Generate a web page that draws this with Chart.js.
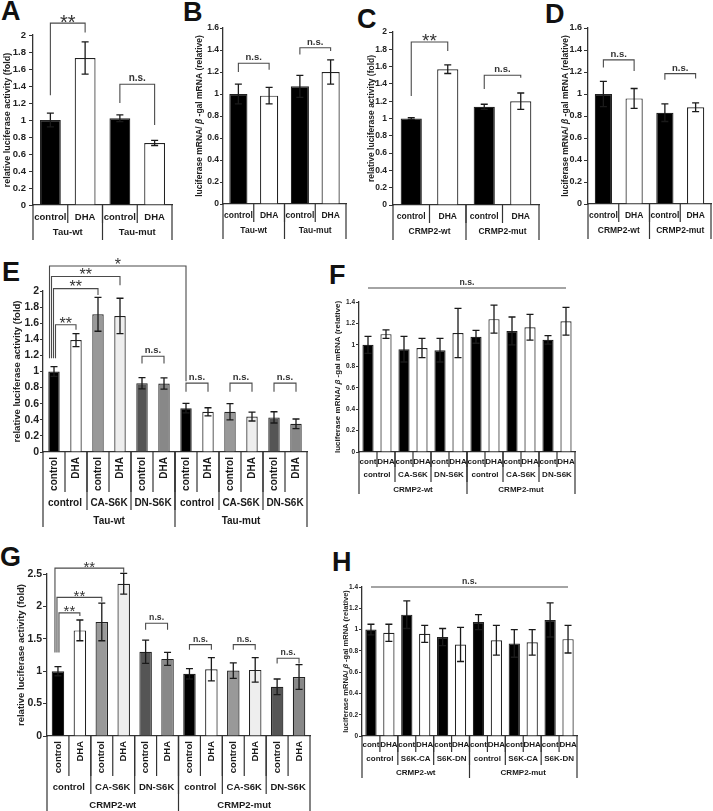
<!DOCTYPE html>
<html>
<head>
<meta charset="utf-8">
<title>DHA / S6K reporter assays</title>
<script src="https://cdn.jsdelivr.net/npm/chart.js@4.4.1/dist/chart.umd.min.js"></script>
<style>
  html, body { margin: 0; padding: 0; background: #fff; }
  body { position: relative; width: 713px; height: 811px; overflow: hidden; }
  canvas { position: absolute; }
  .tag { position: absolute; font: bold 27px "Liberation Sans", Arial, sans-serif; line-height: 1; color: #111; }
</style>
</head>
<body>
<div class="tag" style="left:1px;top:-2px">A</div>
<div class="tag" style="left:183px;top:-1px">B</div>
<div class="tag" style="left:357px;top:6px">C</div>
<div class="tag" style="left:545px;top:1px">D</div>
<div class="tag" style="left:2px;top:259px">E</div>
<div class="tag" style="left:329px;top:262px">F</div>
<div class="tag" style="left:0px;top:544px">G</div>
<div class="tag" style="left:332px;top:549px">H</div>

<script>
/* panels A-H: bars + error bars + significance brackets + nested category boxes */

const FONT = '"Liberation Sans", Arial, Helvetica, sans-serif';
const bold = s => `bold ${s}px ${FONT}`;

// ---- shared labels
const pairCD   = ['control', 'DHA', 'control', 'DHA'];
const groupsTau  = ['Tau-wt', 'Tau-mut'];
const groupsCrmp = ['CRMP2-wt', 'CRMP2-mut'];
const treat12  = ['control', 'DHA', 'control', 'DHA', 'control', 'DHA', 'control', 'DHA', 'control', 'DHA', 'control', 'DHA'];
const short12  = ['cont', 'DHA', 'cont', 'DHA', 'cont', 'DHA', 'cont', 'DHA', 'cont', 'DHA', 'cont', 'DHA'];
const kinaseEG = ['control', 'CA-S6K', 'DN-S6K', 'control', 'CA-S6K', 'DN-S6K'];
const kinaseH  = ['control', 'S6K-CA', 'S6K-DN', 'control', 'S6K-CA', 'S6K-DN'];

const titleLuc  = [['relative luciferase activity (fold)', false]];
const titleMrna = [['luciferase mRNA/ ', false], ['β', true], [' -gal mRNA (relative)', false]];

const ticks2   = [0, 0.2, 0.4, 0.6, 0.8, 1, 1.2, 1.4, 1.6, 1.8, 2];
const ticks16  = [0, 0.2, 0.4, 0.6, 0.8, 1, 1.2, 1.4, 1.6];
const ticks14  = [0, 0.2, 0.4, 0.6, 0.8, 1, 1.2, 1.4];
const ticks25  = [0, 0.5, 1, 1.5, 2, 2.5];

const colsBW4  = ['#000', '#fff', '#000', '#fff'];
const colsBW12 = ['#000', '#fff', '#000', '#fff', '#000', '#fff', '#000', '#fff', '#000', '#fff', '#000', '#fff'];
const colsS6K  = ['#000', '#fff', '#999', '#eee', '#555', '#888', '#000', '#fff', '#999', '#eee', '#555', '#888'];

// ---- A: luciferase, Tau
const valsA = [1.0, 1.73, 1.02, 0.73];
const errsA = [0.08, 0.19, 0.04, 0.03];
const marksA = [
  { from: 0, to: 1, top: 2.14, l: 1.29, r: 2.03, text: '**' },
  { from: 2, to: 3, top: 1.42, l: 1.2,  r: 0.94, text: 'n.s.' },
];

// ---- B: mRNA, Tau
const valsB = [1.0, 0.985, 1.07, 1.2];
const errsB = [0.09, 0.075, 0.10, 0.11];
const marksB = [
  { from: 0, to: 1, top: 1.28, l: 1.2,  r: 1.22, text: 'n.s.' },
  { from: 2, to: 3, top: 1.42, l: 1.36, r: 1.39, text: 'n.s.' },
];

// ---- C: luciferase, CRMP2
const valsC = [1.0, 1.57, 1.135, 1.2];
const errsC = [0.01, 0.05, 0.03, 0.095];
const marksC = [
  { from: 0, to: 1, top: 1.885, l: 1.26, r: 1.78, text: '**' },
  { from: 2, to: 3, top: 1.5,   l: 1.34, r: 1.47, text: 'n.s.' },
];

// ---- D: mRNA, CRMP2
const valsD = [1.0, 0.96, 0.83, 0.88];
const errsD = [0.115, 0.09, 0.08, 0.04];
const marksD = [
  { from: 0, to: 1, top: 1.31,  l: 1.24, r: 1.21, text: 'n.s.' },
  { from: 2, to: 3, top: 1.185, l: 1.13, r: 1.14, text: 'n.s.' },
];

// ---- E: luciferase, Tau x S6K
const valsE = [1.0, 1.39, 1.71, 1.69, 0.855, 0.85, 0.545, 0.50, 0.50, 0.44, 0.43, 0.35];
const errsE = [0.06, 0.08, 0.21, 0.22, 0.07, 0.07, 0.06, 0.05, 0.10, 0.055, 0.07, 0.06];
const marksE = [
  { from: 0,  to: 6,  top: 2.31,  l: 1.165, r: 0.88, text: '*' },
  { from: 0,  to: 3,  top: 2.18,  l: 1.165, r: 2.07, text: '**' },
  { from: 0,  to: 2,  top: 2.03,  l: 1.165, r: 1.95, text: '**' },
  { from: 0,  to: 1,  top: 1.58,  l: 1.165, r: 1.52, text: '**' },
  { from: 4,  to: 5,  top: 1.19,  l: 1.1,   r: 1.1,  text: 'n.s.' },
  { from: 6,  to: 7,  top: 0.855, l: 0.75,  r: 0.75, text: 'n.s.' },
  { from: 8,  to: 9,  top: 0.855, l: 0.75,  r: 0.75, text: 'n.s.' },
  { from: 10, to: 11, top: 0.855, l: 0.75,  r: 0.75, text: 'n.s.' },
];

// ---- F: mRNA, CRMP2 x S6K
const valsF = [1.0, 1.10, 0.96, 0.97, 0.95, 1.11, 1.075, 1.24, 1.13, 1.165, 1.047, 1.22];
const errsF = [0.08, 0.04, 0.12, 0.09, 0.11, 0.23, 0.06, 0.13, 0.13, 0.12, 0.04, 0.13];
const marksF = [{ from: 0, to: 11, top: 1.53, l: 1.53, r: 1.53, text: 'n.s.' }];

// ---- G: luciferase, CRMP2 x S6K
const valsG = [1.0, 1.63, 1.76, 2.35, 1.30, 1.19, 0.96, 1.03, 1.01, 1.02, 0.76, 0.91];
const errsG = [0.07, 0.16, 0.29, 0.16, 0.18, 0.10, 0.08, 0.18, 0.12, 0.19, 0.12, 0.19];
const marksG = [
  { from: 0,  to: 3,  top: 2.59, l: 1.29, r: 2.52, text: '**' },
  { from: 0,  to: 2,  top: 2.14, l: 1.29, r: 2.07, text: '**' },
  { from: 0,  to: 1,  top: 1.90, l: 1.29, r: 1.85, text: '**' },
  { from: 4,  to: 5,  top: 1.74, l: 1.64, r: 1.64, text: 'n.s.' },
  { from: 6,  to: 7,  top: 1.41, l: 1.33, r: 1.33, text: 'n.s.' },
  { from: 8,  to: 9,  top: 1.41, l: 1.33, r: 1.33, text: 'n.s.' },
  { from: 10, to: 11, top: 1.20, l: 1.12, r: 1.12, text: 'n.s.' },
];

// ---- H: mRNA, CRMP2 x S6K (second set)
const valsH = [1.0, 0.97, 1.14, 0.96, 0.93, 0.86, 1.07, 0.90, 0.87, 0.88, 1.09, 0.91];
const errsH = [0.05, 0.08, 0.13, 0.08, 0.08, 0.16, 0.07, 0.14, 0.13, 0.12, 0.16, 0.13];
const marksH = [{ from: 0, to: 11, top: 1.40, l: 1.40, r: 1.40, text: 'n.s.' }];


// draws error bars, brackets, category boxes and y title on top of the bars
function decor(p) {
  return {
    id: 'decor',
    afterDraw(chart) {
      const { ctx, chartArea: a, scales: { x, y } } = chart;
      const n = p.vals.length;
      ctx.save();

      // error bars
      ctx.strokeStyle = '#1a1a1a';
      ctx.lineWidth = 1.3;
      p.vals.forEach((v, i) => {
        const cx = x.getPixelForValue(i);
        const hi = y.getPixelForValue(v + p.errs[i]);
        const lo = y.getPixelForValue(v - p.errs[i]);
        ctx.beginPath();
        ctx.moveTo(cx, hi); ctx.lineTo(cx, lo);
        ctx.moveTo(cx - 3.5, hi); ctx.lineTo(cx + 3.5, hi);
        ctx.moveTo(cx - 3.5, lo); ctx.lineTo(cx + 3.5, lo);
        ctx.stroke();
      });

      // significance brackets
      p.marks.forEach(m => {
        const same = p.marks.filter(o => o.from === m.from);
        const k = same.filter(o => o.top > m.top).length;
        const dx = same.length > 1 ? (k - (same.length - 1) * 0.75) * 2 : 0;
        const xl = x.getPixelForValue(m.from) + dx;
        const xr = x.getPixelForValue(m.to);
        const yt = y.getPixelForValue(m.top);
        ctx.strokeStyle = '#4a4a4a';
        ctx.lineWidth = 1.1;
        ctx.beginPath();
        ctx.moveTo(xl, y.getPixelForValue(m.l));
        ctx.lineTo(xl, yt);
        ctx.lineTo(xr, yt);
        ctx.lineTo(xr, y.getPixelForValue(m.r));
        ctx.stroke();
        ctx.fillStyle = '#333';
        ctx.textAlign = 'center';
        ctx.textBaseline = 'alphabetic';
        if (m.text === 'n.s.') {
          ctx.font = bold(p.nsSize);
          ctx.fillText(m.text, (xl + xr) / 2, yt - 3);
        } else {
          ctx.font = `${p.starSize}px ${FONT}`;
          ctx.fillText(m.text, (xl + xr) / 2, yt - 3 + p.starSize * 0.43);
        }
      });

      // nested category boxes under the x axis
      const bound = i => i <= 0 ? a.left : i >= n ? a.right
        : (x.getPixelForValue(i - 1) + x.getPixelForValue(i)) / 2;
      const base = a.bottom;
      ctx.strokeStyle = '#333';
      ctx.lineWidth = 1.2;
      ctx.fillStyle = '#1a1a1a';
      p.levels.forEach((labels, k) => {
        const row = p.rows[k];
        const span = n / labels.length;
        labels.forEach((t, j) => {
          const xl = bound(j * span), xr = bound((j + 1) * span);
          if (j < labels.length - 1) {
            ctx.beginPath();
            ctx.moveTo(xr, base); ctx.lineTo(xr, base + row.b);
            ctx.stroke();
          }
          ctx.font = bold(row.f);
          ctx.textBaseline = 'middle';
          if (row.rot) {
            ctx.save();
            ctx.translate((xl + xr) / 2, base + row.t);
            ctx.rotate(-Math.PI / 2);
            ctx.textAlign = 'right';
            ctx.fillText(t, 0, 0);
            ctx.restore();
          } else {
            ctx.textAlign = 'center';
            ctx.fillText(t, (xl + xr) / 2, base + row.t);
          }
        });
      });
      const last = p.rows[p.rows.length - 1].b;
      ctx.beginPath();
      ctx.moveTo(a.left, base); ctx.lineTo(a.left, base + last);
      ctx.moveTo(a.right, base); ctx.lineTo(a.right, base + last);
      ctx.stroke();

      // y axis title (mixed upright / italic pieces)
      ctx.save();
      ctx.translate(p.titleX - p.box[0], (a.top + a.bottom) / 2);
      ctx.rotate(-Math.PI / 2);
      ctx.textBaseline = 'middle';
      ctx.textAlign = 'left';
      ctx.fillStyle = '#222';
      const fontOf = it => (it ? 'italic ' : '') + bold(p.titleSize);
      let total = 0;
      p.title.forEach(([s, it]) => { ctx.font = fontOf(it); total += ctx.measureText(s).width; });
      let cx = -total / 2;
      p.title.forEach(([s, it]) => {
        ctx.font = fontOf(it);
        ctx.fillText(s, cx, 0);
        cx += ctx.measureText(s).width;
      });
      ctx.restore();

      ctx.restore();
    }
  };
}

function panel(p) {
  const [bx0, by0, bx1, by1] = p.box;
  const [L, T, R, B] = p.area;
  const cv = document.createElement('canvas');
  cv.width = bx1 - bx0;
  cv.height = by1 - by0;
  cv.style.left = bx0 + 'px';
  cv.style.top = by0 + 'px';
  document.body.appendChild(cv);

  return new Chart(cv, {
    type: 'bar',
    data: {
      labels: p.levels[0],
      datasets: [{
        data: p.vals,
        backgroundColor: p.colors,
        borderColor: '#222',
        borderWidth: 1.2,
        categoryPercentage: 1,
        barPercentage: p.barPct,
      }],
    },
    options: {
      responsive: false,
      animation: false,
      events: [],
      layout: { padding: { left: 0, top: T - by0, right: bx1 - R, bottom: 0 } },
      plugins: { legend: { display: false }, tooltip: { enabled: false } },
      scales: {
        x: {
          ticks: { display: false },
          grid: { display: false },
          border: { color: '#333', width: 1.3 },
          afterFit: s => { s.height = by1 - B; },
        },
        y: {
          min: 0, max: p.ticks[p.ticks.length - 1],
          afterBuildTicks: s => { s.ticks = p.ticks.map(v => ({ value: v })); },
          ticks: {
            autoSkip: false,
            font: { family: FONT, size: p.tickSize, weight: 'bold' },
            color: '#222', padding: p.tickPad,
            callback: v => String(v),
          },
          grid: { drawOnChartArea: false, drawTicks: true, tickLength: p.tickLen, color: '#333', lineWidth: 1 },
          border: { color: '#333', width: 1.3 },
          afterFit: s => { s.width = L - bx0; },
        },
      },
    },
    plugins: [decor(p)],
  });
}

const rowsTop = f => [{ b: 18, t: 12, f }, { b: 35, t: 27, f }];
const rowsBig = f => [{ b: 40, t: 5, f, rot: true }, { b: 58, t: 51, f }, { b: 75, t: 69, f }];

panel({ box: [0, 0, 175, 245],   area: [33, 35, 172, 205],  levels: [pairCD, groupsTau],  rows: rowsTop(9.5),
  vals: valsA, errs: errsA, marks: marksA, colors: colsBW4, ticks: ticks2, barPct: 0.6,
  tickSize: 9.5, tickPad: 3, tickLen: 4, starSize: 20, nsSize: 10, title: titleLuc, titleX: 8, titleSize: 9 });

panel({ box: [175, 0, 350, 245], area: [223, 28, 346, 204], levels: [pairCD, groupsTau],  rows: rowsTop(8.5),
  vals: valsB, errs: errsB, marks: marksB, colors: colsBW4, ticks: ticks16, barPct: 0.59,
  tickSize: 8.5, tickPad: 1, tickLen: 3, starSize: 20, nsSize: 9.5, title: titleMrna, titleX: 200, titleSize: 8.5 });

panel({ box: [350, 0, 545, 245], area: [393, 32, 539, 205], levels: [pairCD, groupsCrmp], rows: rowsTop(8.5),
  vals: valsC, errs: errsC, marks: marksC, colors: colsBW4, ticks: ticks2, barPct: 0.58,
  tickSize: 8.5, tickPad: 2, tickLen: 4, starSize: 19, nsSize: 9.5, title: titleLuc, titleX: 372, titleSize: 8.5 });

panel({ box: [545, 0, 713, 245], area: [588, 28, 711, 204], levels: [pairCD, groupsCrmp], rows: rowsTop(8.5),
  vals: valsD, errs: errsD, marks: marksD, colors: colsBW4, ticks: ticks16, barPct: 0.56,
  tickSize: 9, tickPad: 2, tickLen: 4, starSize: 19, nsSize: 9.5, title: titleMrna, titleX: 566, titleSize: 8.5 });

panel({ box: [0, 250, 320, 530], area: [43, 291, 307, 452],
  levels: [treat12, kinaseEG, groupsTau], rows: rowsBig(10),
  vals: valsE, errs: errsE, marks: marksE, colors: colsS6K, ticks: ticks2, barPct: 0.52,
  tickSize: 10.5, tickPad: 1, tickLen: 3, starSize: 16, nsSize: 9.5, title: titleLuc, titleX: 17, titleSize: 9.5 });

panel({ box: [320, 250, 713, 530], area: [359, 302, 575, 452],
  levels: [short12, kinaseEG, groupsCrmp],
  rows: [{ b: 15, t: 10, f: 8 }, { b: 30, t: 23, f: 8 }, { b: 42, t: 38, f: 8 }],
  vals: valsF, errs: errsF, marks: marksF, colors: colsBW12, ticks: ticks14, barPct: 0.62,
  tickSize: 6.5, tickPad: 1, tickLen: 3, starSize: 16, nsSize: 8.7, title: titleMrna, titleX: 338, titleSize: 8 });

panel({ box: [0, 535, 320, 811], area: [47, 574, 310, 736],
  levels: [treat12, kinaseEG, groupsCrmp], rows: rowsBig(9.5),
  vals: valsG, errs: errsG, marks: marksG, colors: colsS6K, ticks: ticks25, barPct: 0.57,
  tickSize: 10.5, tickPad: 1, tickLen: 4, starSize: 15, nsSize: 8.7, title: titleLuc, titleX: 21, titleSize: 9.5 });

panel({ box: [320, 535, 713, 811], area: [362, 587, 577, 736],
  levels: [short12, kinaseH, groupsCrmp],
  rows: [{ b: 16, t: 9, f: 8 }, { b: 29, t: 23, f: 8 }, { b: 42, t: 37, f: 8 }],
  vals: valsH, errs: errsH, marks: marksH, colors: colsBW12, ticks: ticks14, barPct: 0.63,
  tickSize: 6.5, tickPad: 1, tickLen: 3, starSize: 16, nsSize: 8.7, title: titleMrna, titleX: 346, titleSize: 7.5 });
</script>
</body>
</html>
